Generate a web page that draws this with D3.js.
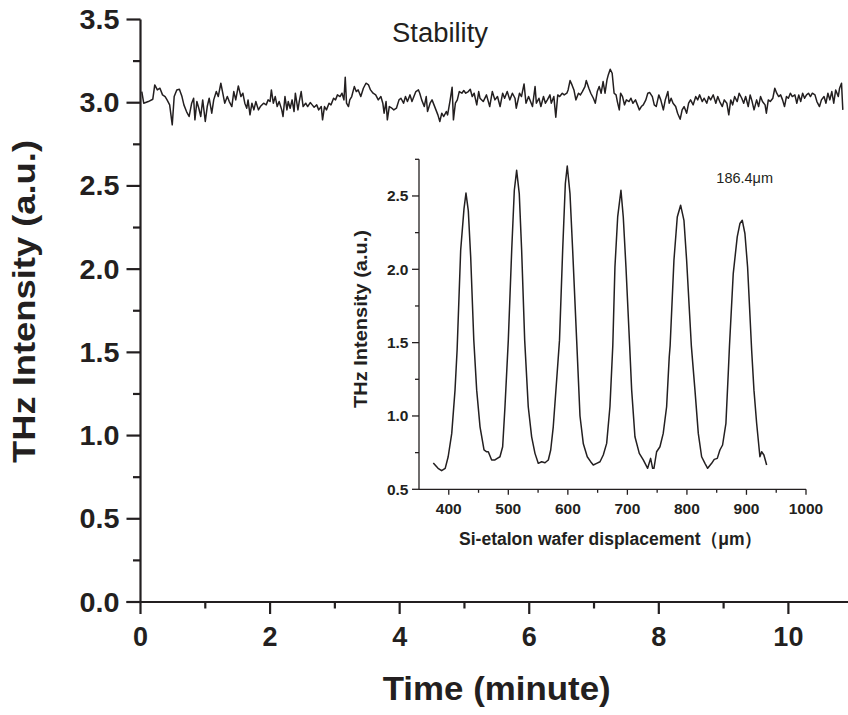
<!DOCTYPE html>
<html>
<head>
<meta charset="utf-8">
<script src="https://cdn.jsdelivr.net/npm/d3@7"></script>
<style>
  html, body { margin: 0; padding: 0; background: #fff; }
  svg { display: block; }
  text { fill: #231f20; font-family: "Liberation Sans", Arial, Helvetica, sans-serif; }
</style>
</head>
<body>
<svg id="chart" width="848" height="715"></svg>
<script>
// ---------------- DATA ----------------
// Main chart: stability of THz intensity over time
const mainXTicks = [0, 2, 4, 6, 8, 10];
const mainYTicks = [0.0, 0.5, 1.0, 1.5, 2.0, 2.5, 3.0, 3.5];
const mainTitleX = "Time (minute)";
const mainTitleY = "THz Intensity (a.u.)";
const stabilityLabel = "Stability";

const stabTime = [
  0.02,0.05,0.12,0.19,0.22,0.26,0.30,0.34,0.38,0.41,0.45,0.49,0.52,0.56,0.60,0.64,0.67,0.71,0.75,0.79,
  0.82,0.84,0.87,0.90,0.93,0.96,1.00,1.03,1.06,1.10,1.13,1.17,1.20,1.24,1.27,1.30,1.34,1.37,1.41,1.44,
  1.47,1.51,1.55,1.58,1.61,1.64,1.66,1.69,1.72,1.75,1.78,1.82,1.85,1.90,1.94,1.97,2.00,2.02,2.05,2.08,
  2.11,2.14,2.18,2.20,2.23,2.26,2.28,2.31,2.34,2.37,2.39,2.43,2.45,2.48,2.51,2.55,2.58,2.62,2.65,2.68,
  2.72,2.75,2.79,2.81,2.84,2.87,2.91,2.94,2.98,3.01,3.04,3.08,3.11,3.14,3.16,3.18,3.21,3.23,3.26,3.30,
  3.33,3.36,3.40,3.44,3.48,3.52,3.55,3.59,3.63,3.67,3.71,3.74,3.76,3.79,3.81,3.84,3.88,3.91,3.95,3.99,
  4.02,4.06,4.09,4.12,4.16,4.19,4.22,4.25,4.29,4.31,4.34,4.38,4.41,4.43,4.47,4.50,4.53,4.56,4.59,4.62,
  4.65,4.68,4.72,4.74,4.78,4.81,4.83,4.86,4.89,4.92,4.96,4.99,5.02,5.06,5.09,5.12,5.15,5.19,5.22,
  5.24,5.29,5.34,5.39,5.43,5.47,5.51,5.55,5.59,5.62,5.66,5.70,5.74,5.78,5.80,5.85,5.88,5.92,5.95,5.99,
  6.02,6.05,6.09,6.11,6.15,6.18,6.22,6.25,6.28,6.32,6.34,6.38,6.41,6.44,6.47,6.51,6.54,6.58,6.60,6.63,
  6.66,6.69,6.72,6.76,6.79,6.82,6.86,6.88,6.92,6.95,6.99,7.02,7.05,7.08,7.11,7.14,7.17,7.20,7.22,7.25,
  7.28,7.31,7.34,7.36,7.39,7.41,7.44,7.47,7.50,7.54,7.57,7.60,7.64,7.67,7.70,7.73,7.76,7.80,7.83,7.86,
  7.90,7.93,7.96,8.00,8.03,8.07,8.10,8.14,8.16,8.19,8.22,8.26,8.29,8.33,8.36,8.39,8.43,8.46,8.49,8.53,
  8.57,8.60,8.63,8.67,8.70,8.74,8.77,8.80,8.84,8.88,8.91,8.94,8.98,9.01,9.05,9.08,9.11,9.14,9.17,9.21,
  9.24,9.28,9.31,9.34,9.38,9.41,9.44,9.47,9.51,9.54,9.57,9.60,9.64,9.66,9.69,9.72,9.76,9.79,9.82,9.85,
  9.88,9.91,9.94,9.97,10.00,10.03,10.06,10.10,10.13,10.16,10.19,10.22,10.25,10.28,10.31,10.34,10.37,10.41,10.44,10.48,
  10.51,10.55,10.58,10.61,10.64,10.67,10.70,10.73,10.77,10.79,10.82,10.84
];
const stabValue = [
  3.067,2.997,3.007,3.021,3.107,3.077,3.087,3.047,3.037,3.017,2.987,2.867,3.037,3.077,3.081,3.037,2.987,2.947,2.917,2.997,
  3.027,2.897,3.007,2.967,2.917,3.017,2.887,2.977,3.027,2.937,3.017,3.067,3.037,3.117,3.057,2.997,3.037,3.007,2.977,3.067,
  3.017,3.101,3.037,3.057,2.997,2.967,3.017,2.927,2.997,2.957,3.007,2.957,2.977,2.997,2.987,3.017,3.007,3.077,2.997,3.037,
  2.977,3.007,2.957,2.917,3.037,2.957,3.007,2.967,3.017,2.947,3.057,2.957,3.007,3.067,2.977,2.997,2.977,3.001,2.987,2.973,
  2.987,2.957,2.977,2.897,2.977,2.957,2.997,2.987,3.027,3.017,3.047,3.037,3.057,3.017,3.153,2.997,2.977,3.017,3.037,3.097,
  3.067,3.077,3.037,3.087,3.117,3.107,3.077,3.057,3.047,3.017,3.037,2.997,2.937,3.007,2.897,2.977,2.967,2.957,2.967,3.017,
  3.027,2.997,3.037,3.007,3.047,3.007,3.037,3.067,3.077,3.057,3.017,2.977,3.037,2.947,2.997,3.017,2.987,2.957,2.927,2.887,
  2.937,2.917,2.947,2.927,3.017,3.093,2.897,2.997,3.017,3.067,3.057,3.073,3.057,3.067,3.081,3.037,3.057,2.987,3.067,
  3.027,3.007,3.047,2.977,3.067,3.017,3.037,2.977,3.057,3.027,3.067,3.017,3.057,3.027,2.967,3.057,3.037,3.113,2.997,3.037,
  3.007,2.977,3.097,2.997,3.027,2.977,3.037,2.997,3.017,3.047,2.997,3.037,2.913,3.047,3.037,3.057,3.047,3.057,3.077,3.133,
  3.107,3.077,3.017,3.057,3.047,3.067,3.097,3.133,3.087,3.057,3.027,2.997,3.067,3.097,3.057,3.127,3.057,3.137,3.167,3.201,
  3.177,3.057,3.047,3.007,2.957,3.057,3.037,2.987,3.017,3.007,3.027,2.997,3.017,2.987,2.957,2.977,2.987,3.017,3.057,3.061,
  3.037,2.987,2.977,3.047,3.017,2.957,3.017,3.067,2.997,3.027,2.997,2.977,2.937,2.901,2.957,2.977,2.937,2.997,3.017,2.987,
  3.037,3.017,3.047,3.007,3.027,2.997,3.037,3.017,3.047,2.997,3.037,3.007,2.977,3.017,2.997,2.927,3.017,2.987,3.037,3.007,
  3.057,3.027,2.997,3.037,2.977,3.047,3.007,2.957,3.017,2.977,3.037,3.007,2.987,2.937,3.017,3.007,3.027,3.087,3.057,3.037,
  3.047,3.017,2.977,3.037,3.027,3.057,3.037,3.047,2.997,3.047,3.007,3.057,3.027,3.047,3.057,3.037,3.057,3.047,3.007,2.977,
  3.017,3.037,2.997,3.057,3.017,3.067,2.997,3.077,3.037,3.087,3.117,2.957
];

// Inset: Si-etalon interference fringes
const insetXTicks = [400, 500, 600, 700, 800, 900, 1000];
const insetYTicks = [0.5, 1.0, 1.5, 2.0, 2.5];
const insetTitleX = "Si-etalon wafer displacement\uFF08\u03BCm\uFF09";
const insetTitleY = "THz Intensity (a.u.)";
const insetNote = "186.4\u03BCm";

const fringeDisp = [
  374,382,388,394,399,405,410.5,414,420,425.6,428.9,432.8,436.8,442,446.9,452.5,459.2,463.7,466.4,472,
  477.6,481.5,486,490.5,494.4,500,505.7,510.1,514,518.4,522.4,527.5,533.5,539.2,544.8,550.3,556,561.6,567.2,571.2,
  575.5,581.2,586,591.3,595.8,599,603.6,608.1,614.8,620.4,626,632.6,638,642.7,648.4,654,659.5,665.2,670.7,675.5,
  679.1,683.7,689.2,693.1,697.6,703.8,707.2,712.7,720,726.7,734,739,742.4,744.6,749.1,754.7,760.2,765.9,770.3,771.8,
  778.2,783.8,789.4,795,799.5,807.4,813.5,819.1,824.7,830.3,834.8,841.5,845.9,851,855.4,859.9,865.5,869.4,871.5,877.8,
  884.5,889,893,897.4,901.9,908.7,912.6,917.1,922.6,925.5,929.3,933.9
];
const fringeValue = [
  0.68,0.643,0.627,0.643,0.722,0.881,1.176,1.45,2.13,2.414,2.52,2.40,2.085,1.52,1.176,0.926,0.768,0.756,0.756,0.70,
  0.70,0.711,0.722,0.79,1.063,1.517,2.13,2.539,2.675,2.516,2.13,1.517,1.063,0.858,0.745,0.677,0.688,0.681,0.70,0.768,
  0.926,1.245,1.517,2.13,2.585,2.704,2.516,2.13,1.517,1.0,0.81,0.722,0.69,0.666,0.677,0.688,0.734,0.813,1.063,1.48,
  2.016,2.357,2.539,2.357,2.016,1.48,1.176,0.858,0.745,0.70,0.643,0.711,0.643,0.643,0.756,0.79,0.881,1.063,1.403,1.48,
  2.062,2.357,2.437,2.334,2.062,1.48,1.176,0.881,0.722,0.677,0.643,0.677,0.704,0.711,0.768,0.802,0.95,1.29,1.48,1.971,
  2.221,2.312,2.334,2.244,2.016,1.45,1.176,0.95,0.722,0.756,0.734,0.666
];

// ---------------- DRAW ----------------
const svg = d3.select("#chart");
const ink = "#231f20";
const fontBold = "'Liberation Sans', Arial, Helvetica, sans-serif";

// ---- main chart ----
const mx = d3.scaleLinear().domain([0, 10.92]).range([140.5, 848]);
const my = d3.scaleLinear().domain([0, 3.5]).range([602, 19.5]);

// x axis
const gX = svg.append("g").attr("transform", `translate(0,${my(0)})`);
gX.append("line").attr("x1", mx(0) - 14).attr("x2", 848).attr("y1", 0).attr("y2", 0)
  .attr("stroke", ink).attr("stroke-width", 2.2);
const xMinor = d3.range(1, 11, 2);
gX.selectAll(".xmaj").data(mainXTicks).join("line")
  .attr("x1", d => mx(d)).attr("x2", d => mx(d)).attr("y1", 0).attr("y2", 12)
  .attr("stroke", ink).attr("stroke-width", 2.2);
gX.selectAll(".xmin").data(xMinor).join("line")
  .attr("x1", d => mx(d)).attr("x2", d => mx(d)).attr("y1", 0).attr("y2", 6.5)
  .attr("stroke", ink).attr("stroke-width", 2.2);
gX.selectAll(".xlab").data(mainXTicks).join("text")
  .attr("x", d => mx(d)).attr("y", 44).attr("text-anchor", "middle")
  .attr("font-size", 27).attr("font-weight", "bold").style("font-family", fontBold)
  .text(d => d);

// y axis
const gY = svg.append("g").attr("transform", `translate(${mx(0)},0)`);
gY.append("line").attr("x1", 0).attr("x2", 0).attr("y1", my(0)).attr("y2", my(3.5))
  .attr("stroke", ink).attr("stroke-width", 2.2);
const yMinor = d3.range(0.25, 3.5, 0.5);
gY.selectAll(".ymaj").data(mainYTicks).join("line")
  .attr("x1", -14).attr("x2", 0).attr("y1", d => my(d)).attr("y2", d => my(d))
  .attr("stroke", ink).attr("stroke-width", 2.2);
gY.selectAll(".ymin").data(yMinor).join("line")
  .attr("x1", -7.5).attr("x2", 0).attr("y1", d => my(d)).attr("y2", d => my(d))
  .attr("stroke", ink).attr("stroke-width", 2.2);
gY.selectAll(".ylab").data(mainYTicks).join("text")
  .attr("x", -21).attr("y", d => my(d) + 9.5).attr("text-anchor", "end")
  .attr("font-size", 27).attr("font-weight", "bold").style("font-family", fontBold)
  .attr("textLength", 40).attr("lengthAdjust", "spacingAndGlyphs")
  .text(d => d.toFixed(1));

// titles
svg.append("text").attr("x", 496.7).attr("y", 700).attr("text-anchor", "middle")
  .attr("font-size", 33).attr("font-weight", "bold").style("font-family", fontBold)
  .attr("textLength", 228).attr("lengthAdjust", "spacingAndGlyphs")
  .text(mainTitleX);
svg.append("text").attr("transform", "translate(35,301.5) rotate(-90)").attr("text-anchor", "middle")
  .attr("font-size", 31).attr("font-weight", "bold").style("font-family", fontBold)
  .attr("textLength", 323).attr("lengthAdjust", "spacingAndGlyphs")
  .text(mainTitleY);
svg.append("text").attr("x", 440).attr("y", 41.7).attr("text-anchor", "middle")
  .attr("font-size", 27).style("font-family", fontBold)
  .attr("textLength", 96).attr("lengthAdjust", "spacingAndGlyphs")
  .text(stabilityLabel);

// stability line
const stabData = stabTime.map((t, i) => ({ t, v: stabValue[i] }));
svg.append("path").datum(stabData)
  .attr("fill", "none").attr("stroke", ink).attr("stroke-width", 1.5).attr("stroke-linejoin", "round")
  .attr("d", d3.line().x(d => mx(d.t)).y(d => my(d.v)));

// ---- inset ----
const ix = d3.scaleLinear().domain([350, 1000]).range([419, 806]);
const iy = d3.scaleLinear().domain([0.5, 2.75]).range([489.3, 159.3]);

const giX = svg.append("g").attr("transform", `translate(0,${iy(0.5)})`);
giX.append("line").attr("x1", ix(350)).attr("x2", ix(1000)).attr("y1", 0).attr("y2", 0)
  .attr("stroke", ink).attr("stroke-width", 1.3);
const ixMinor = d3.range(450, 1000, 100);
giX.selectAll(".ixmaj").data(insetXTicks).join("line")
  .attr("x1", d => ix(d)).attr("x2", d => ix(d)).attr("y1", 0).attr("y2", 5.5)
  .attr("stroke", ink).attr("stroke-width", 1.3);
giX.selectAll(".ixmin").data(ixMinor).join("line")
  .attr("x1", d => ix(d)).attr("x2", d => ix(d)).attr("y1", 0).attr("y2", 3.5)
  .attr("stroke", ink).attr("stroke-width", 1.3);
giX.selectAll(".ixlab").data(insetXTicks).join("text")
  .attr("x", d => ix(d)).attr("y", 24.5).attr("text-anchor", "middle")
  .attr("font-size", 15.5).attr("font-weight", "bold").style("font-family", fontBold)
  .text(d => d);

const giY = svg.append("g").attr("transform", `translate(${ix(350)},0)`);
giY.append("line").attr("x1", 0).attr("x2", 0).attr("y1", iy(0.5)).attr("y2", iy(2.75))
  .attr("stroke", ink).attr("stroke-width", 1.3);
const iyMinor = d3.range(0.75, 2.8, 0.5);
giY.selectAll(".iymaj").data(insetYTicks).join("line")
  .attr("x1", -7).attr("x2", 0).attr("y1", d => iy(d)).attr("y2", d => iy(d))
  .attr("stroke", ink).attr("stroke-width", 1.3);
giY.selectAll(".iymin").data(iyMinor).join("line")
  .attr("x1", -4).attr("x2", 0).attr("y1", d => iy(d)).attr("y2", d => iy(d))
  .attr("stroke", ink).attr("stroke-width", 1.3);
giY.selectAll(".iylab").data(insetYTicks).join("text")
  .attr("x", -10.5).attr("y", d => iy(d) + 5.5).attr("text-anchor", "end")
  .attr("font-size", 15.5).attr("font-weight", "bold").style("font-family", fontBold)
  .text(d => d.toFixed(1));

svg.append("text").attr("x", 610.5).attr("y", 545).attr("text-anchor", "middle")
  .attr("font-size", 18).attr("font-weight", "bold").style("font-family", fontBold)
  .attr("textLength", 303).attr("lengthAdjust", "spacingAndGlyphs")
  .text(insetTitleX);
svg.append("text").attr("transform", "translate(367,319) rotate(-90)").attr("text-anchor", "middle")
  .attr("font-size", 18).attr("font-weight", "bold").style("font-family", fontBold)
  .attr("textLength", 178).attr("lengthAdjust", "spacingAndGlyphs")
  .text(insetTitleY);
svg.append("text").attr("x", 744.7).attr("y", 183).attr("text-anchor", "middle")
  .attr("font-size", 14.5).style("font-family", fontBold)
  .text(insetNote);

const fringeData = fringeDisp.map((d, i) => ({ d, v: fringeValue[i] }));
svg.append("path").datum(fringeData)
  .attr("fill", "none").attr("stroke", ink).attr("stroke-width", 1.5).attr("stroke-linejoin", "round")
  .attr("d", d3.line().x(d => ix(d.d)).y(d => iy(d.v)));
</script>
</body>
</html>
